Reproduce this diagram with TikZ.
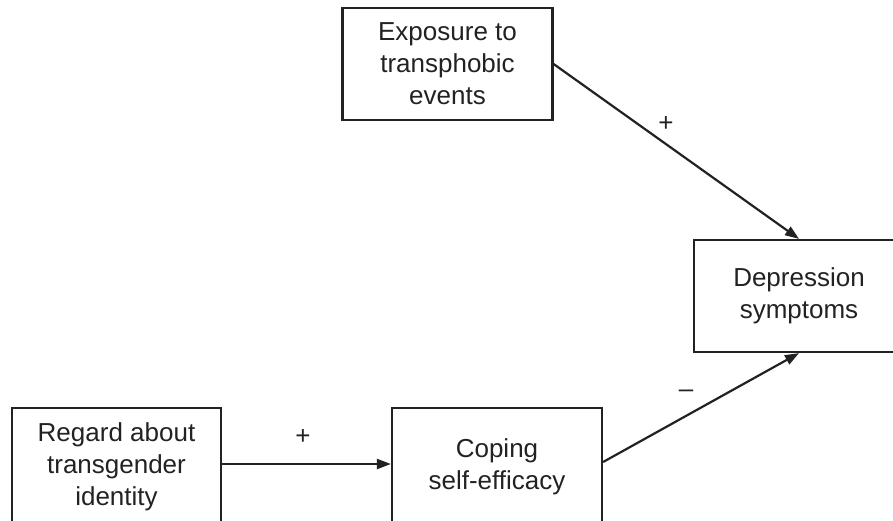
\documentclass[tikz,border=0pt]{standalone}
\usepackage{fontspec}
\setmainfont{Liberation Sans}
\usetikzlibrary{arrows.meta}

\definecolor{ink}{RGB}{34,34,34}

\tikzset{
    varbox/.style={draw=ink, line width=2.2pt, rectangle, align=center,
        minimum width=210pt, minimum height=112pt, text=ink},
    path arrow/.style={draw=ink, line width=2.2pt, -{Triangle[length=14pt, width=10pt]}},
    sign/.style={text=ink, inner sep=0pt}
}

\begin{document}
\begin{tikzpicture}[x=1pt, y=-1pt, font=\fontsize{26}{32}\selectfont]
    \useasboundingbox (0,0) rectangle (893,520);
    % variables
    \node[varbox] (expo) at (447.5,64) {Exposure to\\transphobic\\events};
    \node[varbox] (dep) at (799,296) {Depression\\symptoms};
    \node[varbox, minimum width=209pt, minimum height=118pt] (regard) at (116.5,467) {Regard about\\transgender\\identity};
    \node[varbox, minimum height=118pt] (coping) at (497,467) {Coping\\self-efficacy};
    % paths
    \draw[path arrow] (regard.east) ++(0,-3) coordinate (r1) (r1) -- (coping.west |- r1);
    \draw[path arrow] (expo.east) -- (dep.north);
    \draw[path arrow] (coping.east) ++(0,-5) coordinate (c1) (c1) -- (dep.south);
    % signs
    \node[sign] (sign1) at (666,124) {+};
    \node[sign] (sign2) at (303,437) {+};
    \node[sign] (sign3) at (686,394) {–};
\end{tikzpicture}
\end{document}
